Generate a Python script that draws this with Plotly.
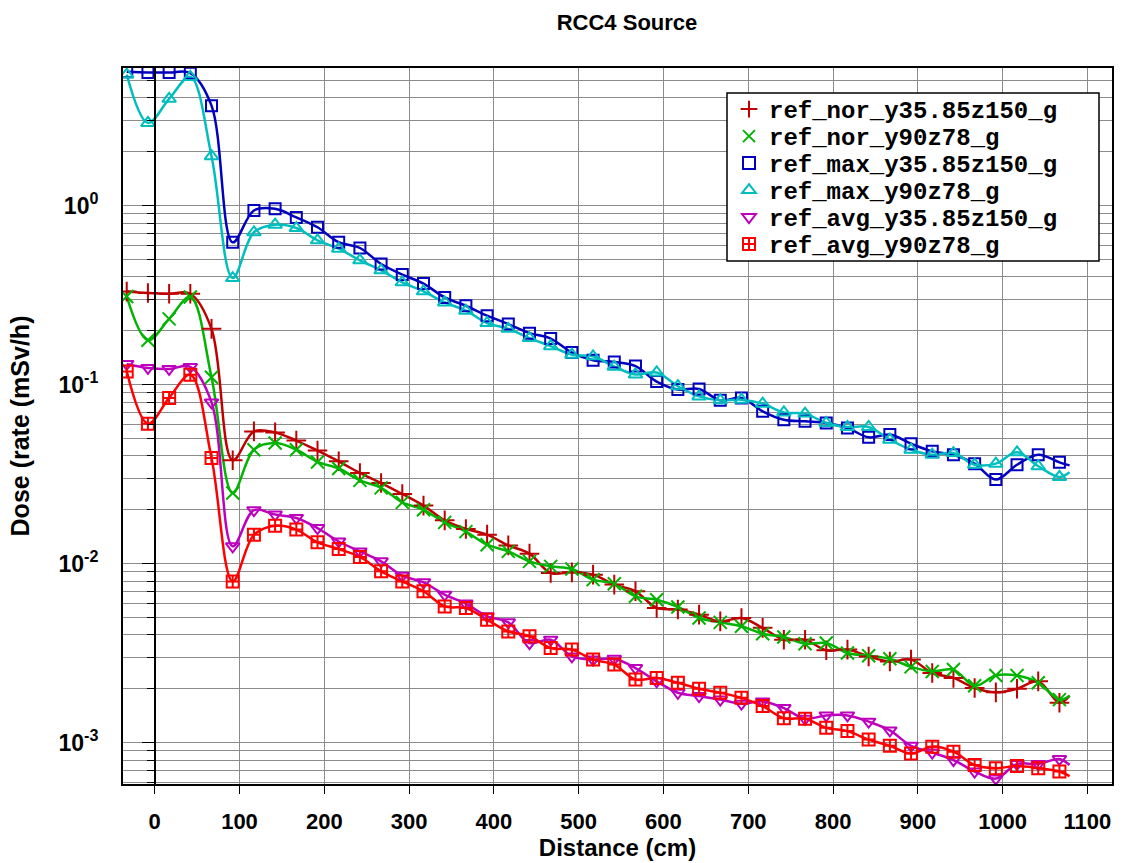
import plotly.graph_objects as go

# Distance along the measurement line (cm); the last entry closes each curve
distance = [-33, -8, 17, 42, 67, 92, 117, 142, 167, 192, 217, 242, 267, 292, 317,
            342, 367, 392, 417, 442, 467, 492, 517, 542, 567, 592, 617, 642, 667,
            692, 717, 742, 767, 792, 817, 842, 867, 892, 917, 942, 967, 992, 1017,
            1042, 1067, 1079]

# Dose rate (mSv/h) per detector line
ref_nor_y35_85z150_g = [0.331, 0.325, 0.322, 0.322, 0.205, 0.0378, 0.0548, 0.0541, 0.0487, 0.0428,
                        0.0373, 0.0321, 0.0282, 0.0245, 0.0211, 0.01745, 0.01563, 0.01452, 0.01265,
                        0.01137, 0.00887, 0.00894, 0.00868, 0.00764, 0.00701, 0.00566, 0.00554,
                        0.00519, 0.00476, 0.00497, 0.00438, 0.00376, 0.00376, 0.00328, 0.00331,
                        0.00303, 0.00284, 0.00291, 0.00245, 0.0023, 0.00202, 0.00191, 0.002,
                        0.0022, 0.00167, 0.00183]
ref_nor_y90z78_g = [0.311, 0.177, 0.233, 0.309, 0.110, 0.0248, 0.0433, 0.0472, 0.0433, 0.037,
                    0.034, 0.0292, 0.0265, 0.022, 0.020, 0.017, 0.0151, 0.01276, 0.01171, 0.0103,
                    0.00966, 0.00934, 0.00814, 0.00773, 0.00657, 0.00629, 0.00573, 0.00497,
                    0.0047, 0.00447, 0.00406, 0.00389, 0.00357, 0.0036, 0.00317, 0.00306,
                    0.00294, 0.00265, 0.0025, 0.00256, 0.00208, 0.00237, 0.00237, 0.00216,
                    0.00174, 0.00183]
ref_max_y35_85z150_g = [5.6, 5.55, 5.55, 5.5, 3.62, 0.624, 0.94, 0.96, 0.86, 0.757, 0.625, 0.58,
                        0.472, 0.412, 0.367, 0.307, 0.276, 0.243, 0.218, 0.194, 0.181, 0.151,
                        0.137, 0.134, 0.127, 0.104, 0.094, 0.0946, 0.0817, 0.0843, 0.071,
                        0.0637, 0.0624, 0.0611, 0.0573, 0.0508, 0.0526, 0.0468, 0.0424, 0.0406,
                        0.0362, 0.0295, 0.0357, 0.0406, 0.0368, 0.0354]
ref_max_y90z78_g = [5.4, 2.9, 3.95, 5.24, 1.89, 0.394, 0.71, 0.783, 0.75, 0.64, 0.575, 0.495,
                    0.435, 0.373, 0.332, 0.288, 0.259, 0.221, 0.205, 0.182, 0.164, 0.147, 0.144,
                    0.126, 0.114, 0.117, 0.098, 0.086, 0.0817, 0.0824, 0.0783, 0.070, 0.0689,
                    0.0611, 0.058, 0.058, 0.0493, 0.0433, 0.0406, 0.0415, 0.0357, 0.0362,
                    0.0419, 0.035, 0.0305, 0.0324]
ref_avg_y35_85z150_g = [0.1305, 0.124, 0.1224, 0.1256, 0.0796, 0.0125, 0.0199, 0.0188, 0.018,
                        0.0158, 0.0133, 0.0117, 0.0103, 0.00857, 0.00786, 0.00671, 0.00598,
                        0.00508, 0.0047, 0.0036, 0.00376, 0.00303, 0.00291, 0.00294, 0.00261,
                        0.0022, 0.0019, 0.00182, 0.00174, 0.00165, 0.0017, 0.00156, 0.00136,
                        0.00142, 0.00142, 0.00131, 0.00117, 0.00096, 0.00088, 0.0008, 0.00069,
                        0.00063, 0.00076, 0.00076, 0.00081, 0.00075]
ref_avg_y90z78_g = [0.1186, 0.0605, 0.0843, 0.1137, 0.0389, 0.00796, 0.0145, 0.0163, 0.0155,
                    0.01315, 0.01208, 0.0109, 0.00906, 0.00796, 0.00701, 0.00577, 0.00565,
                    0.00486, 0.00418, 0.00393, 0.00338, 0.00331, 0.00291, 0.00273, 0.00225,
                    0.0023, 0.00216, 0.002, 0.0019, 0.00178, 0.0016, 0.00137, 0.00136, 0.00121,
                    0.00116, 0.00104, 0.00096, 0.00087, 0.00095, 0.00089, 0.00075, 0.00072,
                    0.00074, 0.00072, 0.00069, 0.00065]

series = [
    ("ref_nor_y35.85z150_g", ref_nor_y35_85z150_g, "#BE0000", "cross-thin-open", 14),
    ("ref_nor_y90z78_g", ref_nor_y90z78_g, "#00B400", "x-thin-open", 13),
    ("ref_max_y35.85z150_g", ref_max_y35_85z150_g, "#0000BE", "square-open", 11),
    ("ref_max_y90z78_g", ref_max_y90z78_g, "#00BEBE", "triangle-up-open", 12),
    ("ref_avg_y35.85z150_g", ref_avg_y35_85z150_g, "#BE00BE", "triangle-down-open", 12),
    ("ref_avg_y90z78_g", ref_avg_y90z78_g, "#FF0000", "square-cross-open", 12),
]

# y ticks: labelled decades, gridded mantissas
decade_vals = [0.001, 0.01, 0.1, 1.0]
decade_text = ["10<sup>-3</sup>", "10<sup>-2</sup>", "10<sup>-1</sup>", "10<sup>0</sup>"]
mantissa_vals = [0.0006, 0.0007, 0.0008, 0.0009,
                 0.002, 0.003, 0.004, 0.005, 0.006, 0.007, 0.008, 0.009,
                 0.02, 0.03, 0.04, 0.05, 0.06, 0.07, 0.08, 0.09,
                 0.2, 0.3, 0.4, 0.5, 0.6, 0.7, 0.8, 0.9,
                 2.0, 3.0, 4.0, 5.0]
x_ticks = [0, 100, 200, 300, 400, 500, 600, 700, 800, 900, 1000, 1100]

# Page geometry (px)
W, H = 1126, 863
ML, MR, MT, MB = 123, 14, 68, 79
PW, PH = W - ML - MR, H - MT - MB
X_RANGE = [-37.4, 1129]
Y_RANGE = [-3.231, 0.769]   # log10 units

AXIS_FONT = "Liberation Sans, Arial, sans-serif"
MONO_FONT = "Liberation Mono, Courier New, monospace"
GRID = "#8C8C8C"

fig = go.Figure()

legend_names = ["legend", "legend2", "legend3", "legend4", "legend5", "legend6"]
# smooth curves through all points
for name, vals, color, symbol, msize in series:
    fig.add_trace(go.Scatter(
        x=distance, y=vals, mode="lines", yaxis="y",
        line=dict(color=color, width=2.5, shape="spline", smoothing=1.0),
        showlegend=False, hoverinfo="skip"))
# measurement markers (the closing point carries no marker)
for i, (name, vals, color, symbol, msize) in enumerate(series):
    fig.add_trace(go.Scatter(
        x=distance[:-1], y=vals[:-1], mode="markers", name=name, yaxis="y2",
        legend=legend_names[i],
        marker=dict(symbol=symbol, size=msize, color=color,
                    line=dict(color=color, width=2))))

fig.update_layout(
    width=W, height=H,
    margin=dict(l=ML, r=MR, t=MT, b=MB, pad=0),
    paper_bgcolor="white", plot_bgcolor="white",
    title=dict(text="RCC4 Source", x=(627 - ML) / PW, xref="paper", xanchor="center",
               y=1 - 22 / H, yref="container", yanchor="middle",
               font=dict(family=AXIS_FONT, size=22, color="black", weight="bold")),
    xaxis=dict(
        range=X_RANGE, tickmode="array", tickvals=x_ticks, automargin=False,
        ticks="outside", ticklen=8, tickwidth=1, tickcolor="black",
        ticklabelstandoff=9,
        showgrid=True, gridcolor=GRID, gridwidth=1,
        showline=True, linecolor="black", linewidth=2, mirror=True,
        zeroline=False,
        tickfont=dict(family=AXIS_FONT, size=22, color="black", weight="bold"),
        title=dict(text="Distance (cm)", standoff=4,
                   font=dict(family=AXIS_FONT, size=24, color="black", weight="bold")),
    ),
    yaxis=dict(
        type="log", range=Y_RANGE, tickmode="array", automargin=False,
        tickvals=decade_vals, ticktext=decade_text,
        ticks="", ticklabelstandoff=18,
        showgrid=True, gridcolor=GRID, gridwidth=1,
        minor=dict(tickmode="array", tickvals=mantissa_vals, ticks="",
                   showgrid=True, gridcolor=GRID, gridwidth=1),
        showline=True, linecolor="black", linewidth=2, mirror=True,
        zeroline=False,
        tickfont=dict(family=AXIS_FONT, size=23, color="black", weight="bold"),
        title=dict(text="Dose (rate (mSv/h)", standoff=22,
                   font=dict(family=AXIS_FONT, size=25, color="black", weight="bold")),
    ),
    # axis line drawn at distance 0 with outward ticks
    yaxis2=dict(
        type="log", range=Y_RANGE, overlaying="y", anchor="free", automargin=False,
        position=(0 - X_RANGE[0]) / (X_RANGE[1] - X_RANGE[0]), side="left",
        tickmode="array", tickvals=decade_vals, ticks="outside", ticklen=12,
        tickwidth=1, tickcolor="black", showticklabels=False, showgrid=False,
        showline=True, linecolor="black", linewidth=1.5, zeroline=False,
        minor=dict(tickmode="array", tickvals=mantissa_vals, ticks="outside",
                   ticklen=7, tickwidth=1, tickcolor="black", showgrid=False),
    ),
    showlegend=True,
)

# Legend: one single-entry legend per row, laid inside a framed white box
box_l, box_r, box_t, box_b = 727, 1099, 93, 261
row0, row_step = 109.5, 27
for i, lg in enumerate(legend_names):
    fig.update_layout({lg: dict(
        x=(729 - ML) / PW, xanchor="left",
        y=(MT + PH - (row0 + i * row_step)) / PH, yanchor="middle",
        bgcolor="rgba(0,0,0,0)", borderwidth=0, itemsizing="constant",
        font=dict(family=MONO_FONT, size=24, color="black", weight="bold"),
    )})

fig.add_shape(type="rect", xref="paper", yref="paper", layer="above",
              x0=(box_l - ML) / PW, x1=(box_r - ML) / PW,
              y0=(MT + PH - box_b) / PH, y1=(MT + PH - box_t) / PH,
              fillcolor="white", line=dict(color="black", width=1.5))

fig.write_html("out.html")
